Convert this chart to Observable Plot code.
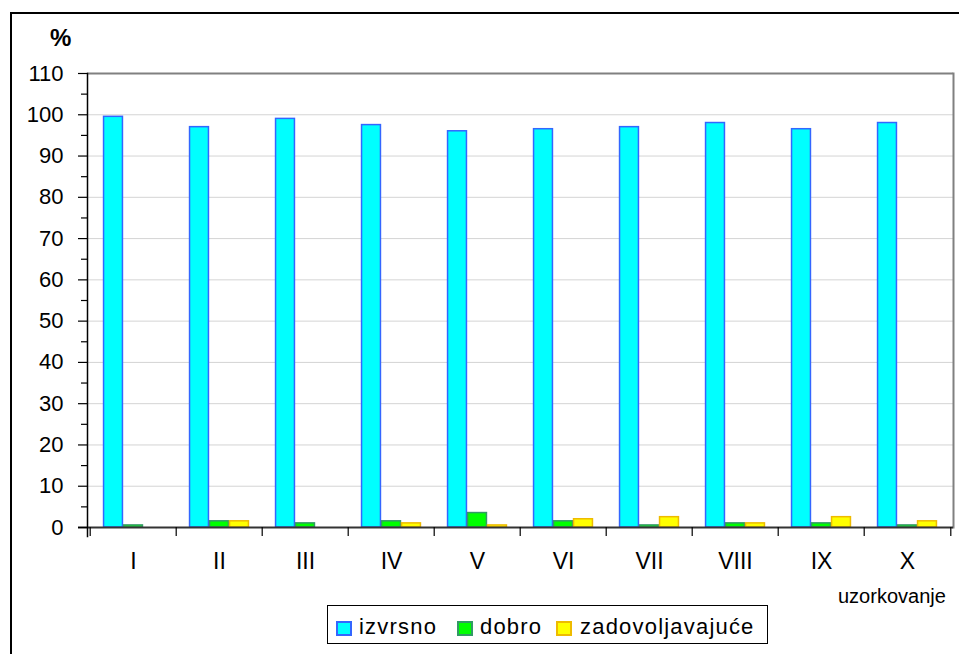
<!DOCTYPE html>
<html>
<head>
<meta charset="utf-8">
<script src="https://cdn.jsdelivr.net/npm/d3@7"></script>
<script src="https://cdn.jsdelivr.net/npm/@observablehq/plot@0.6"></script>
<style>
  html, body { margin: 0; padding: 0; background: #fff; overflow: hidden; }
  #wrap { position: relative; width: 959px; height: 654px; overflow: hidden; font-family: "Liberation Sans", Arial, sans-serif; }
  #outer { position: absolute; left: 10px; top: 12px; width: 1000px; height: 700px; border: 2px solid #000; box-sizing: border-box; }
  #chart { position: absolute; left: 0; top: 0; }
  .lbl { position: absolute; line-height: 1; white-space: nowrap; color: #000; }
  #legend { position: absolute; left: 327px; top: 605px; width: 441px; height: 39px; border: 1px solid #000; box-sizing: border-box; background: #fff; }
  .sw { position: absolute; width: 16px; height: 15px; box-sizing: border-box; border: 2px solid; }
  .lt { position: absolute; font-size: 22px; letter-spacing: 1.2px; line-height: 1; white-space: nowrap; }
</style>
</head>
<body>
<div id="wrap">
  <div id="outer"></div>
  <div id="chart"></div>
  <div class="lbl" id="pct" style="left:50px; top:26px; font-size:24px; font-weight:bold;">%</div>
  <div class="lbl" id="xlab" style="left:838px; top:586px; font-size:20px;">uzorkovanje</div>
  <div id="legend"></div>
</div>
<script>
// ---- data ----
const categories = ["I", "II", "III", "IV", "V", "VI", "VII", "VIII", "IX", "X"];
const izvrsno = [99.5, 97, 99, 97.5, 96, 96.5, 97, 98, 96.5, 98];
const dobro = [0.5, 1.5, 1, 1.5, 3.5, 1.5, 0.5, 1, 1, 0.5];
const zadovoljavajuce = [0, 1.5, 0, 1, 0.5, 2, 2.5, 1, 2.5, 1.5];
const seriesNames = ["izvrsno", "dobro", "zadovoljavajuće"];
const yTicks = [0, 10, 20, 30, 40, 50, 60, 70, 80, 90, 100, 110];
const yMinorTicks = [5, 15, 25, 35, 45, 55, 65, 75, 85, 95, 105];

// ---- styles ----
const fills = ["#00ffff", "#00ff00", "#ffff00"];
const strokes = ["#3366ff", "#339966", "#eebb00"];

const W = 959, H = 654;
const mL = 87, mR = 6, mT = 73, mB = 127;
const plotW = W - mL - mR, plotH = H - mT - mB;
const bw = plotW / categories.length;
const barW = 19.5;
const inset = (bw - barW) / 2;

const values = [izvrsno, dobro, zadovoljavajuce];
const rows = [];
seriesNames.forEach((s, si) => categories.forEach((c, ci) => rows.push({category: c, series: s, si, value: values[si][ci]})));

const barMarks = seriesNames.map((s, si) =>
  Plot.barY(rows.filter(r => r.series === s && r.value > 0), {
    x: "category", y: "value",
    fill: fills[si], stroke: strokes[si], strokeWidth: 1.5,
    insetLeft: inset, insetRight: inset, dx: (si - 1) * (barW + 0.5)
  })
);

const chart = Plot.plot({
  width: W, height: H,
  marginLeft: mL, marginRight: mR, marginTop: mT, marginBottom: mB,
  style: {fontFamily: "Liberation Sans, Arial, sans-serif", background: "transparent", color: "#000"},
  x: {type: "band", domain: categories, padding: 0, axis: null},
  y: {domain: [0, 110], axis: null},
  marks: [
    Plot.gridY(yTicks.filter(t => t > 0 && t < 110), {stroke: "#d4d4d4", strokeOpacity: 1, strokeWidth: 1}),
    Plot.ruleY([110], {stroke: "#808080", strokeWidth: 2}),
    Plot.frame({anchor: "right", stroke: "#808080", strokeWidth: 2}),
    ...barMarks,
    Plot.ruleY([0], {stroke: "#333", strokeWidth: 2, insetLeft: -9}),
    Plot.frame({anchor: "left", stroke: "#000", strokeWidth: 1.5, insetBottom: -9}),
    Plot.ruleX(categories, {x: d => d, dx: -bw / 2, insetTop: plotH, insetBottom: -9, stroke: "#000", strokeWidth: 1.2}),
    Plot.ruleX(categories.slice(-1), {x: d => d, dx: bw / 2, insetTop: plotH, insetBottom: -9, stroke: "#000", strokeWidth: 1.2}),
    Plot.axisY({ticks: yTicks, tickSize: 9, tickPadding: 15, fontSize: 22, stroke: "#000", strokeWidth: 1.2, label: null, fill: "#000"}),
    Plot.axisY({ticks: yMinorTicks, tickSize: 6, tickFormat: () => "", stroke: "#000", strokeWidth: 1.2, label: null}),
    Plot.axisX({tickSize: 0, tickPadding: 25, fontSize: 23, label: null, fill: "#000"})
  ]
});
document.getElementById("chart").appendChild(chart);

// ---- legend ----
const legend = document.getElementById("legend");
const swLeft = [8, 129, 228];
const txLeft = [31, 152, 252];
seriesNames.forEach((s, i) => {
  const sw = document.createElement("div");
  sw.className = "sw";
  sw.style.left = swLeft[i] + "px";
  sw.style.top = "15px";
  sw.style.background = fills[i];
  sw.style.borderColor = strokes[i];
  legend.appendChild(sw);
  const t = document.createElement("div");
  t.className = "lt";
  t.style.left = txLeft[i] + "px";
  t.style.top = "10px";
  t.textContent = s;
  legend.appendChild(t);
});
</script>
</body>
</html>
